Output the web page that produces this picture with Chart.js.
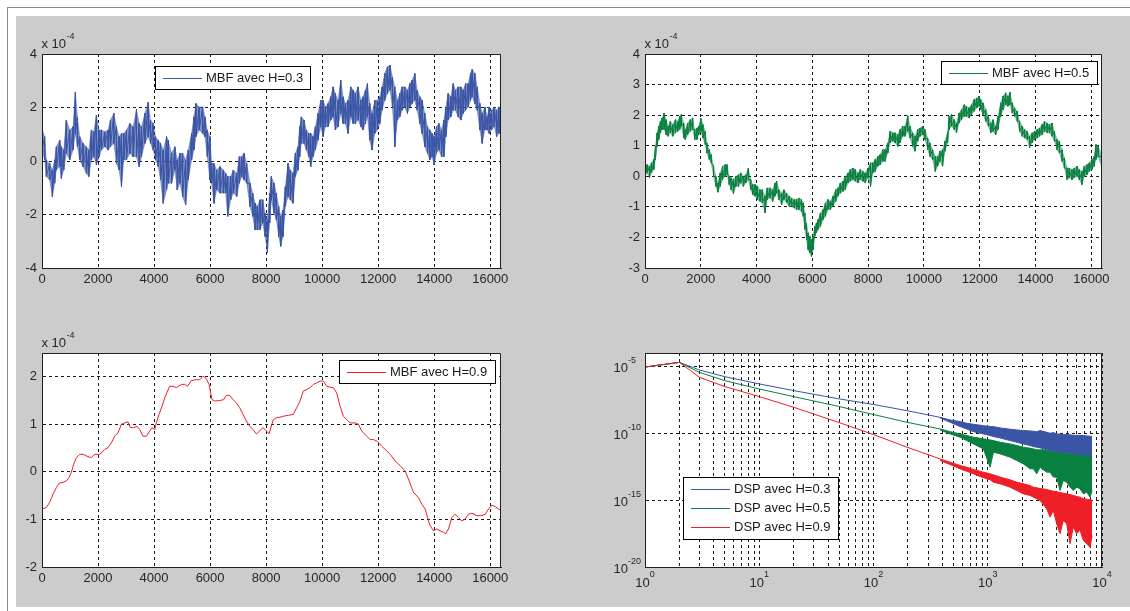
<!DOCTYPE html>
<html>
<head>
<meta charset="utf-8">
<script src="https://cdn.jsdelivr.net/npm/chart.js@4.4.1/dist/chart.umd.min.js"></script>
<style>
html,body{margin:0;padding:0;background:#ffffff;width:1130px;height:611px;overflow:hidden;position:relative;}
#frameH{position:absolute;left:7px;top:7px;width:1123px;height:1px;background:#8c8c8c;}
#frameV{position:absolute;left:7px;top:7px;width:1px;height:604px;background:#8c8c8c;}
#panel{position:absolute;left:16px;top:16px;width:1114px;height:591px;background:#cccccc;}
canvas{position:absolute;display:block;}
</style>
</head>
<body>
<div id="frameH"></div><div id="frameV"></div><div id="panel"></div>
<canvas id="c1"></canvas>
<canvas id="c2"></canvas>
<canvas id="c3"></canvas>
<canvas id="c4"></canvas>
<script>
// ---------------- DATA (values in units of 1e-4 for the three signals) ----------------
// Plot 1 : MBF avec H=0.3  (sample index, local high, local low of the noisy trace)
const h03Samples = [0,95,155,274,370,453,513,632,691,775,870,989,1109,1192,1264,1347,1466,1585,1669,1764,1848,1943,2038,2122,2241,2360,2444,2563,2658,2754,2837,2920,3016,3135,3254,3373,3469,3552,3671,3791,3874,3969,4053,4148,4232,4327,4446,4506,4625,4744,4828,4923,5018,5126,5221,5340,5424,5495,5614,5734,5817,5900,5996,6055,6139,6234,6353,6473,6556,6628,6735,6830,6949,7045,7128,7212,7307,7426,7522,7605,7688,7784,7879,7963,8046,
8127,8186,8281,8365,8448,8520,8603,8686,8782,8865,8960,9044,9139,9198,9258,9353,9437,9520,9591,9675,9758,9854,9949,10032,10116,10211,10306,10389,10473,10568,10663,10747,10830,10925,11021,11104,11187,11283,11378,11461,11545,11616,11700,11783,11878,11973,12057,12140,12235,12331,12426,12509,12593,12688,12771,12855,12950,13045,13129,13212,13307,13391,13486,13569,13665,13760,13843,13927,13998,14082,14165,14260,14344,14415,14498,14594,14677,14760,14856,14951,15034,15118,15213,15296,15356,15451,15534,15630,15713,15809,15892,15963,16047,16142,16225,16309,16384];
const h03High = [1.22,0.91,0.04,-0.09,-0.34,0.04,0.53,0.78,0.53,0.41,1.53,1.16,1.28,2.58,1.65,0.91,0.66,0.53,0.41,1.16,1.09,1.71,1.16,1.16,1.09,1.16,1.53,1.78,1.28,0.91,1.03,1.03,1.16,1.40,1.28,1.93,1.40,1.28,1.78,2.19,1.53,1.40,0.91,0.78,0.66,0.41,0.91,0.78,0.29,0.53,0.04,0.29,0.29,0.04,0.41,1.03,1.65,2.15,2.02,2.02,1.65,1.16,0.91,-0.09,-0.09,-0.34,-0.21,-0.34,-0.46,-0.58,-0.58,-0.34,-0.46,0.16,0.16,0.29,-0.09,-0.83,-1.20,-1.58,-1.70,-1.45,-1.45,-1.95,-2.20,
-1.20,-0.58,-0.83,-1.20,-1.70,-2.07,-1.83,-0.96,-0.09,-0.34,-0.46,0.29,0.53,1.28,1.65,1.53,1.16,1.03,1.03,0.91,1.28,1.78,2.27,2.27,2.02,2.15,2.40,2.77,2.52,2.27,3.02,2.40,2.15,2.27,2.77,2.65,2.52,2.77,2.27,2.40,2.65,2.89,2.15,1.78,2.27,2.27,2.40,2.77,3.27,3.52,3.58,3.14,2.77,2.27,2.52,2.77,2.77,2.65,2.89,3.02,3.27,2.65,2.40,2.27,1.78,1.28,1.16,1.03,0.91,1.28,1.40,1.16,1.53,2.02,2.52,2.40,2.89,2.65,2.77,2.77,2.65,2.89,2.89,3.27,3.42,3.27,2.77,2.15,1.78,2.02,1.65,2.02,1.90,2.02,1.90,2.02,1.90];
const h03Low = [0.41,0.04,-0.58,-0.71,-1.33,-0.83,-0.34,-0.21,-0.65,-0.34,0.29,0.04,0.41,1.03,0.53,0.04,-0.21,-0.46,-0.58,0.04,0.16,-0.15,0.16,0.41,0.53,0.41,0.53,0.66,-0.09,-0.34,-0.96,0.04,0.04,0.29,0.16,0.16,-0.21,0.16,0.66,0.91,0.66,0.41,0.04,-0.21,-0.71,-1.58,-1.08,-0.83,-0.83,-0.34,-1.08,-0.83,-1.33,-1.64,-0.71,0.04,0.41,0.91,1.16,1.03,0.91,0.16,-0.71,-0.83,-1.58,-1.08,-1.20,-1.20,-1.20,-2.07,-1.45,-1.20,-1.33,-0.83,-0.58,-0.71,-0.83,-1.70,-2.07,-2.57,-2.57,-2.57,-2.32,-2.82,-3.42,
-2.32,-1.45,-1.95,-2.20,-2.82,-3.19,-2.82,-1.70,-1.33,-1.45,-1.58,-0.58,-0.34,0.16,0.66,0.66,0.41,0.16,-0.21,0.16,0.41,0.78,1.28,0.91,1.28,1.28,1.53,1.65,1.16,1.28,1.78,1.40,1.40,1.03,1.65,1.40,1.40,1.53,1.28,1.16,1.40,1.65,0.78,0.41,1.03,1.16,1.40,1.90,2.27,2.52,2.65,2.02,0.53,1.53,1.65,1.90,2.02,1.78,2.02,2.15,2.27,1.90,1.40,1.03,0.53,0.29,0.04,0.16,-0.15,0.29,0.41,0.16,0.16,0.91,1.53,1.65,1.90,1.90,1.65,1.53,1.78,1.90,2.02,2.27,2.40,2.15,1.90,1.16,0.66,1.16,1.16,1.03,1.16,1.28,0.91,1.03,1.16];

// Plot 2 : MBF avec H=0.5
const h05Samples = [0,77,161,232,315,375,434,494,553,613,684,756,827,910,994,1089,1172,1244,1303,1386,1446,1529,1624,1708,1779,1862,1922,2005,2077,2160,2219,2303,2374,2457,2541,2612,2695,2779,2874,2945,3017,3088,3171,3255,3350,3433,3528,3611,3707,3790,3862,3945,4028,4123,4207,4302,4385,4481,4576,4659,4719,4802,4897,4980,5076,5171,5254,5349,5433,5516,5611,5671,5730,5790,5849,5909,5968,6027,6087,6146,6206,6289,6384,6468,6563,6646,6741,6836,6920,7003,7098,7182,7277,7360,7455,7539,7634,7717,7812,7896,7991,8086,8169,8253,8348,8431,8526,8609,8705,8788,8883,8967,9062,9145,9240,9323,9419,9502,9597,9680,9776,9859,9954,10037,10133,10216,10311,10406,10490,10573,10668,10752,10847,10906,10990,11085,11168,11263,11347,11442,11525,11620,11704,11799,11894,11977,12037,12120,12215,12310,12394,12477,12572,12656,12751,12834,12929,13012,13084,13167,13250,13346,13429,13524,13608,13703,13786,13881,13965,14060,14143,14238,14322,14417,14500,14595,14678,14774,14857,14952,15036,15131,15214,15309,15393,15488,15571,15666,15750,15845,15928,16023,16106,16166,16249,16384];
const h05High = [0.38,0.38,0.33,0.44,0.55,0.98,1.42,1.64,1.80,1.91,2.07,1.85,1.64,1.80,1.69,1.85,1.80,1.96,2.02,1.74,1.53,1.74,1.85,1.91,1.53,1.58,1.64,1.89,1.69,1.47,1.09,0.87,0.71,0.33,0,-0.22,0.11,0.33,0.38,0.38,0,-0.05,-0.11,0,0.05,0.11,0,0.05,0.27,-0.11,-0.27,-0.27,-0.33,-0.44,-0.44,-0.65,-0.38,-0.38,-0.44,-0.22,-0.16,-0.44,-0.55,-0.44,-0.55,-0.65,-0.71,-0.76,-0.76,-0.71,-0.76,-0.87,-1.20,-1.53,-1.85,-1.96,-2.07,-1.96,-1.64,-1.53,-1.42,-1.20,-1.09,-0.87,-0.76,-0.82,-0.65,-0.44,-0.38,-0.22,-0.16,0,0.11,0.22,0.27,0.22,0.11,0.22,0.16,0.11,0.27,0.44,0.44,0.55,0.65,0.71,0.87,0.87,1.09,1.47,1.42,1.42,1.36,1.53,1.64,1.64,1.98,1.64,1.42,1.31,1.53,1.58,1.64,1.53,1.25,1.09,0.87,0.65,0.65,0.82,0.87,1.15,1.42,1.96,2.02,1.85,1.74,2.07,2.18,2.34,2.29,2.24,2.34,2.51,2.56,2.62,2.51,2.40,2.18,1.96,1.74,1.85,1.64,1.96,2.40,2.62,2.73,2.62,2.75,2.40,2.24,2.13,1.80,1.64,1.53,1.47,1.31,1.42,1.47,1.53,1.58,1.69,1.80,1.74,1.69,1.74,1.47,1.20,1.15,0.87,0.60,0.27,0.27,0.22,0.27,0.33,0.22,0.16,0.33,0.38,0.44,0.55,0.65,1.04,0.98,0.65];
const h05Low = [0,0.11,-0.05,0.11,0.22,0.55,0.98,1.20,1.42,1.53,1.53,1.36,1.31,1.42,1.31,1.42,1.47,1.53,1.64,1.25,1.20,1.36,1.47,1.53,1.20,1.20,1.36,1.47,1.25,1.04,0.76,0.55,0.44,0,-0.33,-0.52,-0.33,-0.11,0,0.05,-0.27,-0.44,-0.57,-0.33,-0.33,-0.22,-0.33,-0.22,-0.11,-0.44,-0.60,-0.65,-0.76,-0.82,-0.87,-1.20,-0.76,-0.71,-0.82,-0.65,-0.55,-0.76,-0.93,-0.76,-0.87,-0.98,-0.98,-1.04,-1.09,-1.09,-1.15,-1.31,-1.74,-2.07,-2.40,-2.51,-2.62,-2.40,-1.96,-1.85,-1.74,-1.64,-1.42,-1.31,-1.09,-1.09,-0.98,-0.82,-0.65,-0.55,-0.49,-0.44,-0.22,-0.16,-0.11,-0.16,-0.22,-0.11,-0.16,-0.22,-0.05,-0.33,0.11,0.16,0.33,0.38,0.49,0.49,0.76,1.09,1.15,1.09,0.98,1.09,1.31,1.31,1.47,1.25,0.98,0.82,1.15,1.31,1.36,1.20,0.87,0.65,0.55,0.16,0.33,0.49,0.33,0.82,1.09,1.53,1.64,1.53,1.42,1.74,1.85,1.96,1.96,1.91,2.02,2.13,2.24,2.29,2.18,2.02,1.80,1.64,1.42,1.47,1.36,1.53,1.96,2.18,2.34,2.29,2.34,2.07,1.96,1.80,1.47,1.31,1.25,1.20,0.93,1.09,1.20,1.25,1.31,1.36,1.47,1.42,1.42,1.31,1.15,0.87,0.76,0.49,0.27,-0.11,-0.05,-0.11,-0.05,0,-0.11,-0.27,0,0.05,0.16,0.22,0.33,0.55,0.65,0.27];

// Plot 3 : MBF avec H=0.9
const h09Samples = [0,155,274,393,512,607,750,869,964,1047,1131,1226,1345,1464,1607,1761,1880,2059,2237,2356,2475,2594,2713,2832,2951,3070,3154,3273,3392,3487,3606,3725,3844,3927,4022,4082,4177,4284,4403,4558,4677,4796,4974,5093,5188,5331,5510,5629,5748,5867,5962,6069,6164,6343,6486,6581,6700,6819,6938,7057,7176,7295,7414,7533,7652,7771,7890,8009,8104,8257,8376,8495,8614,8793,8972,9091,9210,9329,9448,9567,9686,9805,9925,10044,10163,10282,10401,10520,10639,10758,10877,10996,11175,11294,11413,11592,11711,11830,11949,12128,12307,12426,12604,12783,12962,13081,13259,13438,13557,13676,13795,13855,13974,14093,14212,14331,14415,14510,14629,14748,14867,14986,15105,15224,15344,15522,15701,15820,15939,16058,16177,16296,16384];
const h09Values = [-0.78,-0.75,-0.64,-0.47,-0.33,-0.24,-0.22,-0.19,-0.12,-0.01,0.16,0.30,0.37,0.37,0.33,0.30,0.37,0.37,0.47,0.51,0.61,0.75,0.82,1.00,1.03,1.05,0.93,0.93,0.96,0.89,0.75,0.75,0.86,0.93,0.89,1.03,1.21,1.38,1.59,1.80,1.80,1.77,1.84,1.84,1.80,1.92,1.94,1.94,2.01,1.96,1.84,1.52,1.49,1.50,1.52,1.61,1.61,1.52,1.45,1.35,1.21,1.07,0.96,0.89,0.80,0.86,0.93,0.86,0.80,1.10,1.14,1.15,1.17,1.19,1.21,1.35,1.49,1.70,1.73,1.77,1.84,1.87,1.91,1.91,1.80,1.78,1.77,1.66,1.38,1.17,1.10,1.03,1.03,1.00,0.86,0.75,0.68,0.68,0.65,0.54,0.44,0.37,0.23,0.13,0.02,-0.15,-0.43,-0.54,-0.68,-0.78,-1.03,-1.13,-1.24,-1.20,-1.24,-1.27,-1.30,-1.20,-0.96,-0.89,-0.96,-1.03,-0.99,-0.89,-0.87,-0.92,-0.92,-0.89,-0.78,-0.70,-0.73,-0.78,-0.82];

// Plot 4 : DSP (log10 of the power)
const dspLowFreq = [1,2,3,5,10,20,50,100,196];
const dspLowH03 = [-5.05,-4.70,-5.27,-5.77,-6.31,-6.81,-7.43,-7.85,-8.31];
const dspLowH05 = [-5.05,-4.70,-5.45,-6.07,-6.69,-7.26,-8.00,-8.60,-9.18];
const dspLowH09 = [-5.05,-4.70,-5.82,-6.51,-7.26,-8.06,-9.20,-10.10,-11.04];
const dspBandFreq = [383,468,573,655,749,916,1048,1121,1282,1568,1795,2052,2346,2508,2683,2869,3281,3510,3753,4013,4292,4590,4909,5250,5613,6003,6420,6867,7343,7852,8192];
const dspUpH03 = [-8.81,-9.00,-9.13,-9.25,-9.33,-9.43,-9.50,-9.50,-9.60,-9.70,-9.75,-9.80,-9.83,-9.85,-9.88,-9.80,-9.93,-10.00,-9.95,-10.05,-10.07,-10.10,-10.10,-10.12,-10.15,-10.15,-10.17,-10.17,-10.20,-10.22,-10.25];
const dspLoH03 = [-8.86,-9.18,-9.50,-9.68,-9.88,-10.05,-10.17,-10.25,-10.35,-10.55,-10.67,-10.80,-10.92,-11.00,-11.04,-11.09,-11.24,-11.29,-11.37,-11.42,-11.47,-11.49,-11.49,-11.54,-11.59,-11.67,-11.72,-11.67,-11.74,-11.79,-11.84];
const dspUpH05 = [-9.68,-9.88,-10.05,-10.17,-10.30,-10.42,-10.50,-10.55,-10.67,-10.80,-10.92,-11.04,-11.12,-11.17,-11.24,-11.24,-11.29,-11.34,-11.39,-11.44,-11.49,-11.49,-11.54,-11.57,-11.59,-11.62,-11.64,-11.67,-11.69,-11.72,-11.74];
const dspLoH05 = [-9.75,-10.05,-10.30,-10.55,-10.80,-11.17,-12.54,-11.42,-11.54,-11.79,-12.04,-12.29,-12.66,-12.66,-13.03,-12.54,-12.91,-12.91,-13.28,-13.28,-14.28,-13.53,-13.66,-14.03,-14.28,-14.03,-14.15,-14.53,-14.40,-14.78,-14.28];
const dspUpH09 = [-11.92,-12.16,-12.41,-12.54,-12.71,-12.91,-13.03,-13.11,-13.28,-13.48,-13.66,-13.78,-13.91,-14.03,-14.08,-14.13,-14.20,-14.28,-14.33,-14.38,-14.43,-14.48,-14.53,-14.58,-14.65,-14.73,-14.78,-14.90,-14.93,-14.98,-15.02];
const dspLoH09 = [-12.04,-12.34,-12.66,-12.84,-13.03,-13.33,-13.48,-13.66,-13.78,-14.03,-14.28,-14.53,-14.65,-14.78,-14.90,-15.02,-15.65,-16.27,-15.77,-16.77,-17.51,-16.52,-16.77,-18.26,-17.01,-17.51,-17.26,-18.01,-18.26,-18.53,-17.64];

// Tick definitions
const linXTickValues = [0,2000,4000,6000,8000,10000,12000,14000,16000];
const y1TickValues = [-4,-2,0,2,4];
const y2TickValues = [-3,-2,-1,0,1,2,3,4];
const y3TickValues = [-2,-1,0,1,2];
const logXTickValues = [1,2,3,4,5,6,7,8,9,10,20,30,40,50,60,70,80,90,100,200,300,400,500,600,700,800,900,1000,2000,3000,4000,5000,6000,7000,8000,9000,10000];
const logXMajor = [1,10,100,1000,10000];
const logXExpLabels = ['0','1','2','3','4'];
const logYTickValues = [1e-20,1e-15,1e-10,1e-5];
const logYExpLabels = ['-20','-15','-10','-5'];

const legendLabels = ['MBF avec H=0.3','MBF avec H=0.5','MBF avec H=0.9','DSP avec H=0.3','DSP avec H=0.5','DSP avec H=0.9'];

// ---------------- STYLE ----------------
const FONT = "'Liberation Sans', Arial, Helvetica, sans-serif";
const TEXT = '#262626';
const GRID = '#1a1a1a';
const BLUE = '#3a55a5';
const BLUE_BAND = 'rgba(58,85,165,0.62)';
const GREEN = '#0a8040';
const GREEN_BAND = 'rgba(10,128,64,0.5)';
const RED = '#ee1f26';

function strokes(xs, hi, lo){
  const pts = [];
  for (let i = 0; i < xs.length; i++){ pts.push({x: xs[i], y: hi[i]}); pts.push({x: xs[i], y: lo[i]}); }
  return pts;
}
function pairs(xs, ys){ return xs.map((x, i) => ({x: x, y: ys[i]})); }
function pairsLog(xs, es){ return xs.map((x, i) => ({x: x, y: Math.pow(10, es[i])})); }

const decor = {
  id: 'decor',
  beforeDraw(chart){
    const a = chart.chartArea, ctx = chart.ctx;
    ctx.save(); ctx.fillStyle = '#ffffff';
    ctx.fillRect(a.left, a.top, a.right - a.left, a.bottom - a.top);
    ctx.restore();
  },
  afterDraw(chart, args, o){
    const a = chart.chartArea, ctx = chart.ctx;
    ctx.save();
    ctx.strokeStyle = '#202020'; ctx.lineWidth = 1; ctx.setLineDash([]);
    ctx.beginPath();
    ctx.moveTo(a.left + 0.5, a.top + 0.5); ctx.lineTo(a.right - 0.5, a.top + 0.5);
    ctx.lineTo(a.right - 0.5, a.bottom + 0.5); ctx.lineTo(a.left + 0.5, a.bottom + 0.5);
    ctx.closePath(); ctx.stroke();
    if (o.legend){
      const L = o.legend;
      const bx = Math.round(a.left + L.dx), by = Math.round(a.top + L.dy);
      ctx.fillStyle = '#ffffff'; ctx.fillRect(bx, by, L.w, L.h);
      ctx.strokeStyle = '#000000'; ctx.strokeRect(bx + 0.5, by + 0.5, L.w, L.h);
      const items = chart.data.datasets.filter(d => d.inLegend);
      const n = items.length;
      items.forEach((d, i) => {
        const cy = Math.round(by + L.h / 2 + (i - (n - 1) / 2) * 19) + 0.5;
        ctx.strokeStyle = d.borderColor; ctx.lineWidth = 1;
        ctx.beginPath(); ctx.moveTo(bx + 8, cy); ctx.lineTo(bx + 47, cy); ctx.stroke();
        ctx.fillStyle = '#1a1a1a'; ctx.font = '13px ' + FONT; ctx.textBaseline = 'middle'; ctx.textAlign = 'left';
        ctx.fillText(d.label, bx + 51, cy);
      });
    }
    ctx.textAlign = 'left'; ctx.textBaseline = 'alphabetic'; ctx.fillStyle = TEXT;
    if (o.expLabel){
      ctx.font = '13px ' + FONT;
      const x0 = a.left - 0.5, y0 = a.top - 6.5;
      ctx.fillText('x 10', x0, y0);
      const w = ctx.measureText('x 10').width;
      ctx.font = '9px ' + FONT;
      ctx.fillText(o.expLabel, x0 + w + 0.5, y0 - 9);
    }
    if (o.logX){
      const sx = chart.scales.x;
      o.logX.values.forEach((v, i) => {
        const px = sx.getPixelForValue(v);
        ctx.font = '13px ' + FONT; const w1 = ctx.measureText('10').width;
        ctx.font = '9px ' + FONT; const w2 = ctx.measureText(o.logX.labels[i]).width;
        const x0 = px - (w1 + w2) / 2;
        ctx.font = '13px ' + FONT; ctx.fillText('10', x0, a.bottom + 20);
        ctx.font = '9px ' + FONT; ctx.fillText(o.logX.labels[i], x0 + w1, a.bottom + 10);
      });
    }
    if (o.logY){
      const sy = chart.scales.y;
      o.logY.values.forEach((v, i) => {
        const py = sy.getPixelForValue(v);
        ctx.font = '13px ' + FONT; const w1 = ctx.measureText('10').width;
        ctx.fillText('10', a.left - 17 - w1, py + 6);
        ctx.font = '9px ' + FONT; ctx.fillText(o.logY.labels[i], a.left - 17, py - 3.5);
      });
    }
    ctx.restore();
  }
};

const AREAS = {
  c1: {l: 42, t: 54, r: 501, b: 268},
  c2: {l: 645, t: 54, r: 1102, b: 268},
  c3: {l: 42, t: 353, r: 501, b: 567},
  c4: {l: 645, t: 353, r: 1102, b: 567}
};

function linAxis(min, max, tickValues, pad){
  return {
    type: 'linear', min: min, max: max,
    afterBuildTicks: s => { s.ticks = tickValues.map(v => ({value: v})); },
    grid: {color: GRID, lineWidth: 1, drawTicks: false},
    border: {display: true, color: '#202020', width: 1, dash: [3, 3]},
    ticks: {autoSkip: false, maxRotation: 0, minRotation: 0,
            color: TEXT, font: {family: FONT, size: 13}, padding: pad, callback: v => String(v)}
  };
}
function logAxis(min, max, tickValues){
  return {
    type: 'logarithmic', min: min, max: max,
    afterBuildTicks: s => { s.ticks = tickValues.map(v => ({value: v})); },
    grid: {color: GRID, lineWidth: 1, drawTicks: false},
    border: {display: true, color: '#202020', width: 1, dash: [3, 3]},
    ticks: {autoSkip: false, maxRotation: 0, minRotation: 0, font: {family: FONT, size: 13}, callback: () => ''}
  };
}

function build(id, datasets, scales, decorOpts){
  const A = AREAS[id];
  const PAD = {left: 2, top: 26, right: 25, bottom: 4};
  const YW = 40, XH = 30;
  const w = A.r - A.l + PAD.left + YW + PAD.right;
  const h = A.b - A.t + PAD.top + XH + PAD.bottom;
  const cv = document.getElementById(id);
  cv.width = w; cv.height = h;
  cv.style.left = (A.l - PAD.left - YW) + 'px';
  cv.style.top = (A.t - PAD.top) + 'px';
  cv.style.width = w + 'px'; cv.style.height = h + 'px';
  scales.x.afterFit = s => { s.height = XH; };
  scales.y.afterFit = s => { s.width = YW; };
  return new Chart(cv, {
    type: 'line',
    data: {datasets: datasets},
    options: {
      responsive: false, maintainAspectRatio: false, animation: false, devicePixelRatio: 1, events: [],
      layout: {padding: PAD},
      elements: {point: {radius: 0, hitRadius: 0}, line: {tension: 0, borderWidth: 1, borderJoinStyle: 'round'}},
      plugins: {legend: {display: false}, tooltip: {enabled: false}, decor: decorOpts},
      scales: scales
    },
    plugins: [decor]
  });
}

function noisySeries(label, xs, hi, lo, color, band){
  return [
    {label: label, inLegend: true, order: 0, data: strokes(xs, hi, lo), borderColor: color, backgroundColor: color, fill: false},
    {label: label + ' max', inLegend: false, order: 1, data: pairs(xs, hi), borderColor: band, borderWidth: 0.6, backgroundColor: band, fill: false},
    {label: label + ' min', inLegend: false, order: 1, data: pairs(xs, lo), borderColor: band, borderWidth: 0.6, backgroundColor: band, fill: '-1'}
  ];
}

// Plot 1
build('c1', noisySeries(legendLabels[0], h03Samples, h03High, h03Low, BLUE, BLUE_BAND),
  {x: linAxis(0, 16384, linXTickValues, 4), y: linAxis(-4, 4, y1TickValues, 5)},
  {expLabel: '-4', legend: {dx: 113, dy: 12, w: 155, h: 23}});

// Plot 2
build('c2', noisySeries(legendLabels[1], h05Samples, h05High, h05Low, GREEN, GREEN_BAND),
  {x: linAxis(0, 16384, linXTickValues, 4), y: linAxis(-3, 4, y2TickValues, 5)},
  {expLabel: '-4', legend: {dx: 296, dy: 7, w: 156, h: 23}});

// Plot 3
build('c3',
  [{label: legendLabels[2], inLegend: true, data: pairs(h09Samples, h09Values), borderColor: RED, backgroundColor: RED, fill: false}],
  {x: linAxis(0, 16384, linXTickValues, 4), y: linAxis(-2, 2.5, y3TickValues, 5)},
  {expLabel: '-4', legend: {dx: 297, dy: 7, w: 156, h: 23}});

// Plot 4
const dspSeries = [
  {label: legendLabels[3], color: BLUE, low: dspLowH03, up: dspUpH03, lo: dspLoH03, order: 3},
  {label: legendLabels[4], color: GREEN, low: dspLowH05, up: dspUpH05, lo: dspLoH05, order: 2},
  {label: legendLabels[5], color: RED, low: dspLowH09, up: dspUpH09, lo: dspLoH09, order: 1}
];
const ds4 = [];
dspSeries.forEach(s => {
  ds4.push({label: s.label, inLegend: true, order: s.order, borderColor: s.color, backgroundColor: s.color, fill: false,
            data: pairsLog(dspLowFreq, s.low).concat(pairsLog(dspBandFreq, s.up))});
  ds4.push({label: s.label + ' (bande)', inLegend: false, order: s.order, borderColor: s.color, backgroundColor: s.color, fill: '-1',
            data: pairsLog(dspBandFreq, s.lo)});
});
build('c4', ds4,
  {x: logAxis(1, 10000, logXTickValues), y: logAxis(1e-20, 1e-4, logYTickValues)},
  {legend: {dx: 38, dy: 124, w: 155, h: 62},
   logX: {values: logXMajor, labels: logXExpLabels},
   logY: {values: logYTickValues, labels: logYExpLabels}});
</script>
</body>
</html>
